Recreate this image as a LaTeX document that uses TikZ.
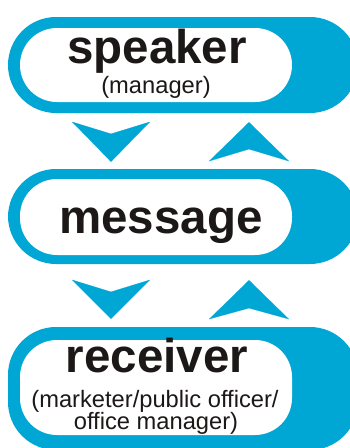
\documentclass[tikz,border=0pt]{standalone}
\usepackage{fontspec}
\setmainfont{Liberation Sans}
\usepackage{tikz}
\usetikzlibrary{arrows.meta}
\definecolor{pillblue}{RGB}{0,166,212}
\definecolor{inkblack}{RGB}{28,24,24}

\begin{document}
\begin{tikzpicture}[x=1pt, y=-1pt,
  outer/.style={rectangle,fill=pillblue,rounded corners=48pt,minimum width=350pt,inner sep=0pt},
  inner/.style={rectangle,fill=white,rounded corners=37pt,minimum width=272pt,inner sep=0pt},
  bigword/.style={anchor=base,inner sep=0pt,text=inkblack,font=\fontsize{47.5}{50}\selectfont\bfseries},
  smallword/.style={anchor=base,inner sep=0pt,text=inkblack,font=\fontsize{23.7}{26}\selectfont},
  chevron/.style={draw=white,line width=0.1pt,shorten <=9pt}]

\clip (0,0) rectangle (350,448);
\useasboundingbox (0,0) rectangle (350,448);

% speaker
\node[outer,minimum height=96pt] at (183,65) (speakerbg) {};
\node[inner,minimum height=74pt] at (156,65) (speaker) {};
\node[bigword] at (157,63) (speakerlbl) {speaker};
\node[smallword] at (156,93) (speakersub) {(manager)};

% message
\node[outer,minimum height=95pt] at (183,216.5) (messagebg) {};
\node[inner,minimum height=76pt] at (156,217) (message) {};
\node[bigword] at (161,233) (messagelbl) {message};

% receiver
\node[outer,minimum height=123pt] at (183,388.5) (receiverbg) {};
\node[inner,minimum height=95pt] at (156,387.5) (receiver) {};
\node[bigword] at (157,372) (receiverlbl) {receiver};
\node[smallword] at (155,407) (receiversub1) {(marketer/public officer/};
\node[smallword] at (156,429) (receiversub2) {office manager)};

% arrow columns
\coordinate (downx) at (111,0);
\coordinate (upx) at (249,0);

% speaker <-> message
\draw[chevron,shorten >=7pt,-{Stealth[length=40pt,width=78pt,inset=12pt,color=pillblue]}]
  (speakerbg.south -| downx) -- (messagebg.north -| downx);
\draw[chevron,shorten >=9pt,-{Stealth[length=39pt,width=80pt,inset=12pt,color=pillblue]}]
  (messagebg.north -| upx) -- (speakerbg.south -| upx);

% message <-> receiver
\draw[chevron,shorten >=8pt,-{Stealth[length=39pt,width=78pt,inset=12pt,color=pillblue]}]
  (messagebg.south -| downx) -- (receiverbg.north -| downx);
\draw[chevron,shorten >=16pt,-{Stealth[length=39pt,width=80pt,inset=11pt,color=pillblue]}]
  (receiverbg.north -| upx) -- (messagebg.south -| upx);

\end{tikzpicture}
\end{document}
